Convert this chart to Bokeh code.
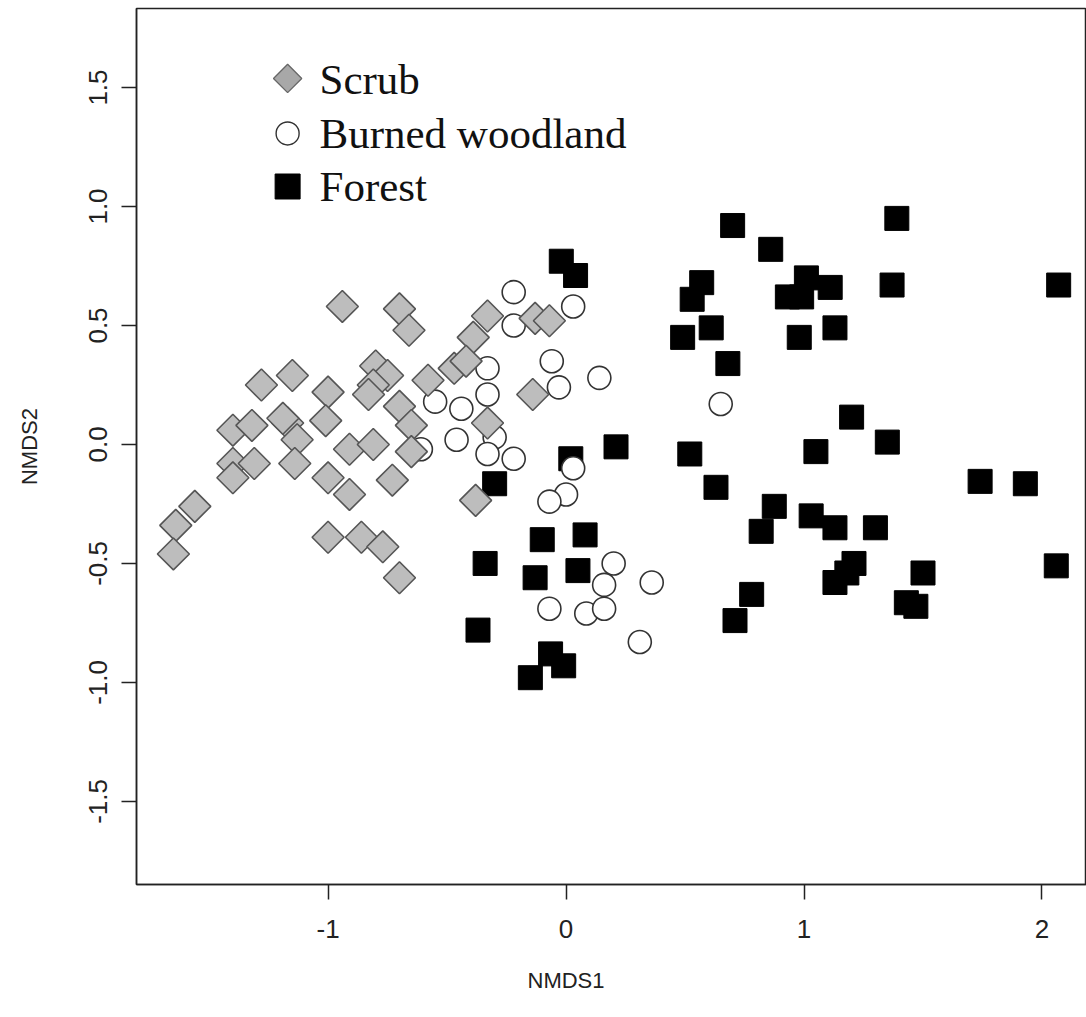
from bokeh.plotting import figure
from bokeh.models import Range1d, FixedTicker, Title
from bokeh.core.properties import value
from bokeh.embed import file_html
from bokeh.resources import INLINE
import math

# ---------------- data ----------------
scrub_x = [-0.94, -0.70, -0.66, -1.28, -1.15, -1.00, -0.80, -0.75, -0.81, -0.83,
           -0.58, -1.40, -1.32, -1.17, -1.19, -1.13, -1.01, -0.70, -0.65, -0.91,
           -0.81, -0.65, -1.40, -1.31, -1.40, -1.14, -1.00, -0.91, -0.73, -1.56,
           -1.64, -1.65, -1.00, -0.86, -0.77, -0.70, -0.33, -0.39, -0.13, -0.07,
           -0.47, -0.42, -0.14, -0.33, -0.38]
scrub_y = [0.58, 0.57, 0.48, 0.25, 0.29, 0.22, 0.33, 0.29, 0.25, 0.21,
           0.27, 0.06, 0.08, 0.09, 0.11, 0.02, 0.10, 0.16, 0.08, -0.02,
           0.00, -0.03, -0.08, -0.08, -0.14, -0.08, -0.14, -0.21, -0.15, -0.26,
           -0.34, -0.46, -0.39, -0.39, -0.43, -0.56, 0.54, 0.45, 0.53, 0.52,
           0.32, 0.35, 0.21, 0.09, -0.235]

burned_x = [-0.22, 0.03, -0.22, -0.06, 0.14, -0.33, -0.03, -0.55, -0.44, -0.33,
            -0.46, -0.30, -0.33, -0.22, -0.61, 0.03, 0.00, -0.07, 0.20, 0.16,
            0.36, -0.07, 0.085, 0.16, 0.31, 0.65]
burned_y = [0.64, 0.58, 0.50, 0.35, 0.28, 0.32, 0.24, 0.18, 0.15, 0.21,
            0.02, 0.03, -0.04, -0.06, -0.02, -0.10, -0.21, -0.24, -0.50, -0.59,
            -0.58, -0.69, -0.71, -0.69, -0.83, 0.17]

forest_x = [-0.02, 0.04, 0.21, 0.02, -0.30, -0.10, 0.08, -0.34, -0.13, 0.05,
            -0.37, -0.065, -0.01, -0.15, 0.52, 0.70, 0.86, 0.57, 0.53, 0.61,
            0.49, 0.68, 1.39, 1.01, 1.11, 0.99, 0.93, 1.37, 2.07, 0.98,
            1.13, 1.20, 1.05, 1.35, 1.74, 1.93, 1.03, 1.13, 1.30, 1.21,
            1.18, 1.13, 1.50, 1.43, 1.47, 2.06, 0.63, 0.875, 0.82, 0.78, 0.71]
forest_y = [0.77, 0.71, -0.01, -0.06, -0.165, -0.40, -0.38, -0.50, -0.56, -0.53,
            -0.78, -0.88, -0.93, -0.98, -0.04, 0.92, 0.82, 0.68, 0.61, 0.49,
            0.45, 0.34, 0.95, 0.70, 0.66, 0.62, 0.62, 0.67, 0.67, 0.45,
            0.49, 0.115, -0.03, 0.01, -0.155, -0.165, -0.30, -0.35, -0.35, -0.50,
            -0.54, -0.58, -0.54, -0.665, -0.68, -0.51, -0.18, -0.26, -0.365, -0.63, -0.74]

legend_labels = ["Scrub", "Burned woodland", "Forest"]
x_ticks = [-1, 0, 1, 2]
x_tick_labels = ["-1", "0", "1", "2"]
y_ticks = [-1.5, -1.0, -0.5, 0.0, 0.5, 1.0, 1.5]
y_tick_labels = ["-1.5", "-1.0", "-0.5", "0.0", "0.5", "1.0", "1.5"]
x_title = "NMDS1"
y_title = "NMDS2"

# ---------------- figure ----------------
SANS = "Liberation Sans"
SERIF = "Liberation Serif"
INK = "#222222"

p = figure(width=1086, height=1017, output_backend="svg", toolbar_location=None,
           x_range=Range1d(-1.805, 2.187), y_range=Range1d(-1.849, 1.832),
           min_border_left=136, min_border_right=0, min_border_top=8,
           min_border_bottom=133)
p.background_fill_color = "white"
p.border_fill_color = "white"
p.grid.visible = False
p.outline_line_color = INK
p.outline_line_width = 1.5

for ax in (p.xaxis[0], p.yaxis[0]):
    ax.axis_line_color = INK
    ax.axis_line_width = 1.5
    ax.major_tick_line_color = INK
    ax.major_tick_line_width = 1.5
    ax.major_tick_out = 15
    ax.major_tick_in = 0
    ax.minor_tick_line_color = None
    ax.major_label_text_font = SANS
    ax.major_label_text_font_size = "26px"
    ax.major_label_text_color = INK

p.xaxis.major_label_standoff = 20
p.yaxis.major_label_standoff = 14
p.xaxis.ticker = FixedTicker(ticks=x_ticks)
p.xaxis.major_label_overrides = {t: l for t, l in zip(x_ticks, x_tick_labels)}
p.yaxis.ticker = FixedTicker(ticks=y_ticks)
p.yaxis.major_label_overrides = {t: l for t, l in zip(y_ticks, y_tick_labels)}
p.yaxis.major_label_orientation = "vertical"

p.yaxis.axis_label = y_title
p.yaxis.axis_label_text_font = SANS
p.yaxis.axis_label_text_font_size = "22px"
p.yaxis.axis_label_text_font_style = "normal"
p.yaxis.axis_label_text_color = INK
p.yaxis.axis_label_standoff = 45

xt = Title(text=x_title, align="left", offset=391, standoff=50,
           text_font=SANS, text_font_size="22px", text_font_style="normal",
           text_color=INK)
p.add_layout(xt, "below")

# ---------------- points ----------------
p.scatter(forest_x, forest_y, marker="square", size=24,
          fill_color="black", line_color="black", line_width=1)
p.scatter(burned_x, burned_y, marker="circle", size=23,
          fill_color="white", line_color="#333333", line_width=1.6)
p.scatter(scrub_x, scrub_y, marker="square", size=22.6, angle=math.pi / 4,
          fill_color="#bdbdbd", line_color="#555555", line_width=1.6)

# ---------------- legend ----------------
leg_mx = -1.170
leg_tx = -1.036
leg_my = [1.538, 1.307, 1.084]
leg_ty = [1.535, 1.306, 1.083]
p.scatter([leg_mx], [leg_my[0]], marker="square", size=20, angle=math.pi / 4,
          fill_color="#a8a8a8", line_color="#666666", line_width=1.3)
p.scatter([leg_mx], [leg_my[1]], marker="circle", size=23,
          fill_color="white", line_color="#333333", line_width=1.4)
p.scatter([leg_mx], [leg_my[2]], marker="square", size=25,
          fill_color="black", line_color="black")
p.text(x=[leg_tx] * 3, y=leg_ty, text=legend_labels,
       text_font=value(SERIF), text_font_size="43px",
       text_baseline="alphabetic", text_align="left", text_color="#111111")

open("out.html", "w").write(file_html(p, INLINE))
